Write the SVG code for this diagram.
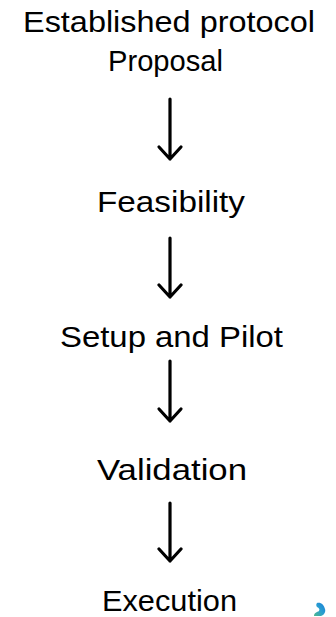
<svg xmlns="http://www.w3.org/2000/svg" width="336" height="617" viewBox="0 0 336 617">
<defs>
<style>
.t{font-family:"Liberation Sans",Arial,sans-serif;font-size:29px;fill:#000;text-anchor:middle}
.c{fill:none;stroke:#000;stroke-width:3.2;stroke-linecap:round;stroke-linejoin:round}
</style>
<linearGradient id="ig" x1="0" y1="1" x2="1" y2="0">
<stop offset="0" stop-color="#4fb88a"/>
<stop offset="0.5" stop-color="#2a9fd0"/>
<stop offset="1" stop-color="#1a7fd8"/>
</linearGradient>
</defs>
<rect width="336" height="617" fill="#fff"/>
<g id="n0"><text class="t" x="169" y="32" textLength="292" lengthAdjust="spacingAndGlyphs">Established protocol</text></g>
<g id="n1"><text class="t" x="165.5" y="71" textLength="115" lengthAdjust="spacingAndGlyphs">Proposal</text></g>
<g id="n2"><text class="t" x="171" y="212" textLength="148" lengthAdjust="spacingAndGlyphs">Feasibility</text></g>
<g id="n3"><text class="t" x="171.5" y="347" textLength="223" lengthAdjust="spacingAndGlyphs">Setup and Pilot</text></g>
<g id="n4"><text class="t" x="172" y="480" textLength="150" lengthAdjust="spacingAndGlyphs">Validation</text></g>
<g id="n5"><text class="t" x="169.5" y="611" textLength="135" lengthAdjust="spacingAndGlyphs">Execution</text></g>
<g id="connectors">
<path class="c" d="M170 99V159M159 147L170 159L181 147"/>
<path class="c" d="M170 238V297M159 285L170 297L181 285"/>
<path class="c" d="M170 361V421M159 409L170 421L181 409"/>
<path class="c" d="M170 503V561M159 549L170 561L181 549"/>
</g>
<g id="icon"><path d="M317 603C321 602 324 605 325 609C326 612 324 615 321 616L314 616C314 613 317 612 319 611C320 609 319 608 317 607C316 606 316 604 317 603Z" fill="url(#ig)"/></g>
</svg>
